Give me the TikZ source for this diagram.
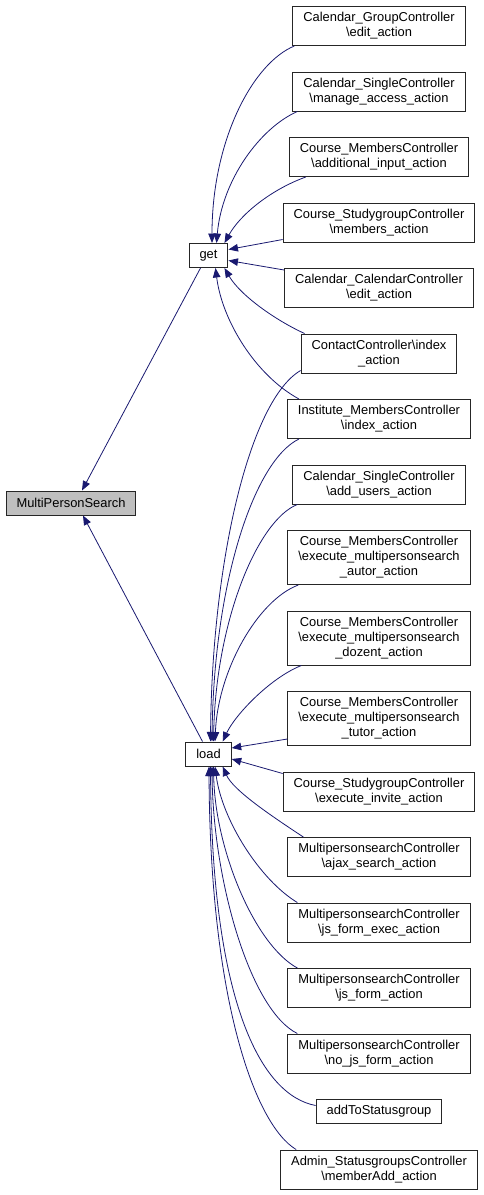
\documentclass[tikz,border=0pt]{standalone}
\usepackage{xcolor}
\usepackage{fontspec}
\setmainfont{Liberation Sans}
\usepackage{tikz}
\usetikzlibrary{arrows.meta, positioning}

\definecolor{edgeblue}{HTML}{191970}

\begin{document}
\begin{tikzpicture}[
    x=1pt, y=1pt,
    node distance=25.5pt,
    box/.style={draw=black!85, line width=1pt, rectangle, minimum height=39pt, align=center, inner xsep=10.5pt, inner ysep=0pt, font=\fontsize{12.9}{15}\selectfont},
    arrow/.style={->, draw=edgeblue, line width=0.8pt, >={Triangle[length=9.5pt, width=7.5pt]}}
]
    \useasboundingbox (0,0) rectangle (484,-1195);

    % left column
    \node[box, fill=black!25, minimum height=24pt] (mps) at (71,-503) {MultiPersonSearch};
    \node[box, minimum height=24pt] (get) at (208.5,-255.5) {get};
    \node[box, minimum height=24pt] (load) at (208.5,-754) {load};

    % callers of get
    \node[box] (calgroup) at (379,-26) {Calendar\_GroupController\\\textbackslash edit\_action};
    \node[box, below=of calgroup] (manageaccess) {Calendar\_SingleController\\\textbackslash manage\_access\_action};
    \node[box, below=of manageaccess] (addinput) {Course\_MembersController\\\textbackslash additional\_input\_action};
    \node[box, below=of addinput] (sgmembers) {Course\_StudygroupController\\\textbackslash members\_action};
    \node[box, below=of sgmembers] (caledit) {Calendar\_CalendarController\\\textbackslash edit\_action};

    % callers of get and load
    \node[box, below=of caledit] (contact) {ContactController\textbackslash index\\\_action};
    \node[box, below=of contact] (institute) {Institute\_MembersController\\\textbackslash index\_action};

    % callers of load
    \node[box, below=of institute] (addusers) {Calendar\_SingleController\\\textbackslash add\_users\_action};
    \node[box, minimum height=54pt, below=of addusers] (autor) {Course\_MembersController\\\textbackslash execute\_multipersonsearch\\\_autor\_action};
    \node[box, minimum height=54pt, below=of autor] (dozent) {Course\_MembersController\\\textbackslash execute\_multipersonsearch\\\_dozent\_action};
    \node[box, minimum height=54pt, below=of dozent] (tutor) {Course\_MembersController\\\textbackslash execute\_multipersonsearch\\\_tutor\_action};
    \node[box, below=of tutor] (invite) {Course\_StudygroupController\\\textbackslash execute\_invite\_action};
    \node[box, below=of invite] (ajax) {MultipersonsearchController\\\textbackslash ajax\_search\_action};
    \node[box, below=of ajax] (jsexec) {MultipersonsearchController\\\textbackslash js\_form\_exec\_action};
    \node[box, below=of jsexec] (jsform) {MultipersonsearchController\\\textbackslash js\_form\_action};
    \node[box, below=of jsform] (nojs) {MultipersonsearchController\\\textbackslash no\_js\_form\_action};
    \node[box, minimum height=24pt, below=of nojs] (addto) {addToStatusgroup};
    \node[box, below=of addto] (memberadd) {Admin\_StatusgroupsController\\\textbackslash memberAdd\_action};

    % get and load into MultiPersonSearch
    \draw[arrow] ([xshift=-8pt]get.south) -- ([xshift=11pt]mps.north);
    \draw[arrow] ([xshift=-6pt]load.north) -- ([xshift=12pt]mps.south);

    % into get
    \draw[arrow] ([xshift=2pt]calgroup.south west) .. controls (253,-63) and (212,-140) .. ([xshift=3.5pt]get.north);
    \draw[arrow] ([xshift=5pt]manageaccess.south west) .. controls (260,-128) and (222,-180) .. ([xshift=8pt]get.north);
    \draw[arrow] ([xshift=17pt]addinput.south west) .. controls (270,-190) and (240,-215) .. ([xshift=-4pt]get.north east);
    \draw[arrow] ([yshift=3pt]sgmembers.south west) -- ([yshift=6pt]get.east);
    \draw[arrow] ([yshift=-2pt]caledit.north west) -- ([yshift=-5pt]get.east);
    \draw[arrow] ([xshift=4pt]contact.north west) .. controls (275,-320) and (240,-295) .. ([xshift=-4pt]get.south east);
    \draw[arrow] ([xshift=12pt]institute.north west) .. controls (255,-375) and (222,-320) .. ([xshift=7pt]get.south);

    % into load, from above
    \draw[arrow] ([yshift=-17pt]contact.west) .. controls (250,-400) and (212,-560) .. ([xshift=2pt]load.north);
    \draw[arrow] ([xshift=12pt]institute.south west) .. controls (255,-460) and (214,-580) .. ([xshift=3.5pt]load.north);
    \draw[arrow] ([xshift=5pt]addusers.south west) .. controls (258,-520) and (216,-620) .. ([xshift=5pt]load.north);
    \draw[arrow] ([xshift=11pt]autor.south west) .. controls (258,-600) and (218,-670) .. ([xshift=6.5pt]load.north);
    \draw[arrow] ([xshift=14pt]dozent.south west) .. controls (270,-678) and (235,-715) .. ([xshift=-9pt]load.north east);
    \draw[arrow] ([yshift=-20.5pt]tutor.west) -- ([yshift=6pt]load.east);
    \draw[arrow] ([yshift=-2pt]invite.north west) -- ([yshift=-5pt]load.east);

    % into load, from below
    \draw[arrow] ([xshift=16pt]ajax.north west) .. controls (270,-815) and (233,-790) .. ([xshift=-9pt]load.south east);
    \draw[arrow] ([xshift=10pt]jsexec.north west) .. controls (260,-880) and (222,-820) .. ([xshift=6.5pt]load.south);
    \draw[arrow] ([xshift=10pt]jsform.north west) .. controls (255,-945) and (215,-850) .. ([xshift=5pt]load.south);
    \draw[arrow] ([xshift=10pt]nojs.north west) .. controls (250,-1010) and (213,-880) .. ([xshift=3.5pt]load.south);
    \draw[arrow] ([yshift=6pt]addto.west) .. controls (260,-1095) and (212,-1000) .. ([xshift=2pt]load.south);
    \draw[arrow] ([xshift=16pt]memberadd.north west) .. controls (255,-1125) and (210,-1000) .. ([xshift=0.5pt]load.south);

\end{tikzpicture}
\end{document}
